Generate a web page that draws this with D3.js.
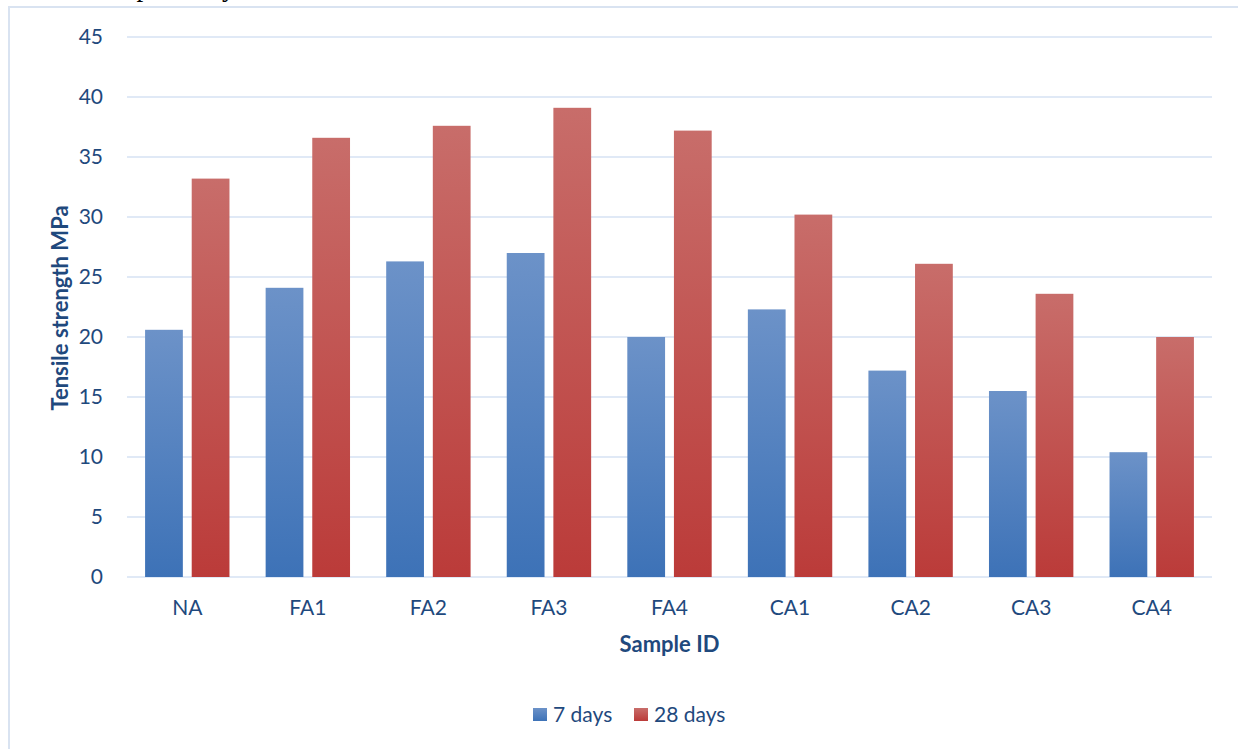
<!DOCTYPE html>
<html>
<head>
<meta charset="utf-8">
<script src="https://cdn.jsdelivr.net/npm/d3@7"></script>
<style>
  html, body { margin: 0; padding: 0; background: #fff; }
  svg { display: block; }
  text { font-family: Lato, "Open Sans", "Liberation Sans", sans-serif; }
</style>
</head>
<body>
<svg id="chart" width="1238" height="749"></svg>
<script>
// Tensile strength of concrete samples at 7 and 28 days of curing
const categories = ["NA", "FA1", "FA2", "FA3", "FA4", "CA1", "CA2", "CA3", "CA4"];
const seriesNames = ["7 days", "28 days"];
const days7 = [20.6, 24.1, 26.3, 27.0, 20.0, 22.3, 17.2, 15.5, 10.4];
const days28 = [33.2, 36.6, 37.6, 39.1, 37.2, 30.2, 26.1, 23.6, 20.0];
const yTicks = [0, 5, 10, 15, 20, 25, 30, 35, 40, 45];

const seriesValues = [days7, days28];
const textColor = "#1f497d";
const labelSize = 21;
const titleSize = 22;
const gradStops = [
  { top: "#6c92c8", bottom: "#3d72b7" },
  { top: "#c86d6a", bottom: "#bb3b39" }
];

const svg = d3.select("#chart");
const plot = { left: 127, right: 1212, top: 37, bottom: 577 };

// Fragment of the surrounding document text, above the chart frame
svg.append("text")
  .attr("x", 105)
  .attr("y", -4.5)
  .style("font-family", "'Liberation Serif', 'DejaVu Serif', serif")
  .attr("font-size", 27)
  .attr("fill", "#000")
  .text("respectively");

// Chart frame
svg.append("rect")
  .attr("x", 9).attr("y", 7)
  .attr("width", 1240).attr("height", 760)
  .attr("fill", "none")
  .attr("stroke", "#d9e3f1")
  .attr("stroke-width", 2);

// Per-bar vertical gradients
const defs = svg.append("defs");
gradStops.forEach((g, i) => {
  const lg = defs.append("linearGradient")
    .attr("id", "grad" + i)
    .attr("x1", 0).attr("y1", 0).attr("x2", 0).attr("y2", 1);
  lg.append("stop").attr("offset", "0%").attr("stop-color", g.top);
  lg.append("stop").attr("offset", "100%").attr("stop-color", g.bottom);
});

const y = d3.scaleLinear().domain([0, 45]).range([plot.bottom, plot.top]);
const x0 = d3.scaleBand().domain(categories).range([plot.left, plot.right])
  .paddingInner(0.3).paddingOuter(0.15);
const x1 = d3.scaleBand().domain(seriesNames).range([0, x0.bandwidth()])
  .paddingInner(0.19);

// Horizontal gridlines
svg.append("g")
  .selectAll("line")
  .data(yTicks)
  .join("line")
  .attr("x1", plot.left).attr("x2", plot.right)
  .attr("y1", d => y(d)).attr("y2", d => y(d))
  .attr("stroke", "#d6e2f3")
  .attr("stroke-width", 1.6);

// Y axis labels
const yAxis = d3.axisLeft(y).tickValues(yTicks).tickSize(0).tickPadding(0).tickFormat(d3.format("d"));
const yg = svg.append("g").attr("transform", `translate(${103},0)`).call(yAxis);
yg.select(".domain").remove();
yg.selectAll("text")
  .attr("fill", textColor)
  .attr("font-size", labelSize)
  .style("font-family", "Lato, 'Open Sans', sans-serif");

// X axis labels
const xAxis = d3.axisBottom(x0).tickSize(0).tickPadding(0);
const xg = svg.append("g").attr("transform", `translate(0,${615})`).call(xAxis);
xg.select(".domain").remove();
xg.selectAll("text")
  .attr("fill", textColor)
  .attr("font-size", labelSize)
  .attr("dy", "0")
  .style("font-family", "Lato, 'Open Sans', sans-serif");

// Bars
const groups = svg.append("g")
  .selectAll("g")
  .data(categories)
  .join("g")
  .attr("transform", d => `translate(${x0(d)},0)`);

groups.selectAll("rect")
  .data((c, ci) => seriesNames.map((s, si) => ({ s, si, v: seriesValues[si][ci] })))
  .join("rect")
  .attr("x", d => x1(d.s))
  .attr("width", x1.bandwidth())
  .attr("y", d => y(d.v))
  .attr("height", d => y(0) - y(d.v))
  .attr("fill", d => `url(#grad${d.si})`);

// Axis titles
svg.append("text")
  .attr("transform", `translate(68,${(plot.top + plot.bottom) / 2 + 1}) rotate(-90)`)
  .attr("text-anchor", "middle")
  .attr("font-size", titleSize)
  .attr("font-weight", "bold")
  .attr("fill", textColor)
  .text("Tensile strength MPa");

svg.append("text")
  .attr("x", (plot.left + plot.right) / 2)
  .attr("y", 652)
  .attr("text-anchor", "middle")
  .attr("font-size", titleSize)
  .attr("font-weight", "bold")
  .attr("fill", textColor)
  .text("Sample ID");

// Legend
const legendX = [533, 634];
const legend = svg.append("g")
  .selectAll("g")
  .data(seriesNames)
  .join("g")
  .attr("transform", (d, i) => `translate(${legendX[i]},708)`);
legend.append("rect")
  .attr("width", 14).attr("height", 13)
  .attr("fill", (d, i) => `url(#grad${i})`);
legend.append("text")
  .attr("x", 20).attr("y", 13.5)
  .attr("font-size", labelSize)
  .attr("fill", textColor)
  .text(d => d);
</script>
</body>
</html>
